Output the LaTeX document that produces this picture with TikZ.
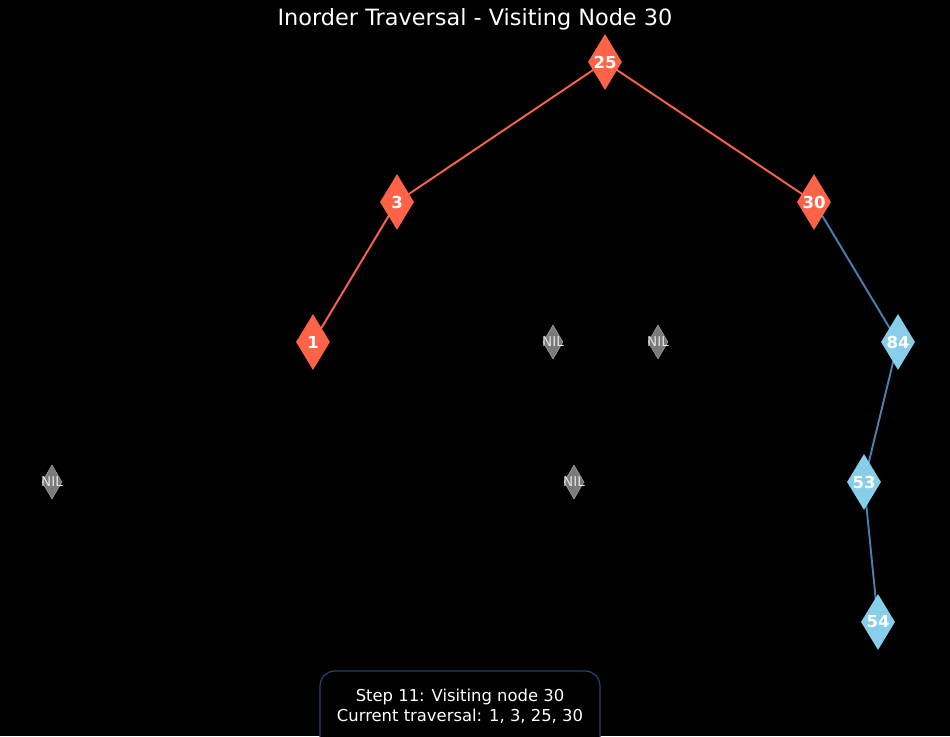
\documentclass[tikz,border=0pt]{standalone}
\usepackage{fontspec}
\setmainfont{DejaVu Sans}
\usepackage{xcolor}
\usetikzlibrary{shapes.geometric}
\definecolor{tomato}{HTML}{FF6347}
\definecolor{skyblue}{HTML}{87CEEB}
\definecolor{steelblue}{HTML}{4682B4}
\definecolor{nilgray}{HTML}{7A7A7A}
\definecolor{boxedge}{HTML}{24456B}
\pgfdeclarelayer{backdrop}
\pgfdeclarelayer{edges}
\pgfsetlayers{backdrop,edges,main}

\begin{document}
\begin{tikzpicture}[x=1pt,y=-1pt,
  key/.style={diamond,minimum width=34pt,minimum height=56pt,inner sep=0pt},
  keytext/.style={text=white,inner sep=0pt,font=\fontsize{16.5}{16.5}\selectfont\bfseries},
  visited/.style={key,fill=tomato,label={[keytext]center:#1}},
  pending/.style={key,fill=skyblue,label={[keytext]center:#1}},
  nil/.style={diamond,minimum width=20pt,minimum height=34pt,inner sep=0pt,fill=nilgray,draw=gray!70,line width=0.5pt,
    label={[inner sep=0pt,text=white!80!gray,font=\fontsize{13.5}{13.5}\selectfont]center:NIL}},
  redge/.style={tomato,line width=1.9pt},
  bedge/.style={steelblue,line width=1.9pt}]
\begin{pgfonlayer}{backdrop}
\fill[black](0,0)rectangle(950,736);
\end{pgfonlayer}
\useasboundingbox(0,0)rectangle(950,736);
\node[text=white,font=\fontsize{22.4}{22.4}\selectfont](title)at(475,19){Inorder Traversal - Visiting Node 30};
% tree keys
\node[visited=25](n25)at(605,62){};
\node[visited=3](n3)at(397,202){};
\node[visited=30](n30)at(814,202){};
\node[visited=1](n1)at(313,342){};
\node[pending=84](n84)at(898,342){};
\node[pending=53](n53)at(864,482){};
\node[pending=54](n54)at(878,622){};
% empty leaves
\node[nil](nilA)at(553,342){};\node[nil](nilB)at(658,342){};
\node[nil](nilC)at(52,482){};\node[nil](nilD)at(574,482){};
% edges go under the keys
\begin{pgfonlayer}{edges}
\draw[redge](n25.center)--(n3.center);\draw[redge](n25.center)--(n30.center);\draw[redge](n3.center)--(n1.center);
\draw[bedge](n30.center)--(n84.center);\draw[bedge](n84.center)--(n53.center);\draw[bedge](n53.center)--(n54.center);
\end{pgfonlayer}
\draw[boxedge,line width=1.2pt,fill=black,rounded corners=15pt](320,671)rectangle(600,752);
\node[text=white,align=center,font=\fontsize{16.4}{19.5}\selectfont](status)at(460,706){Step 11: Visiting node 30\\Current traversal: 1, 3, 25, 30};
\end{tikzpicture}
\end{document}
